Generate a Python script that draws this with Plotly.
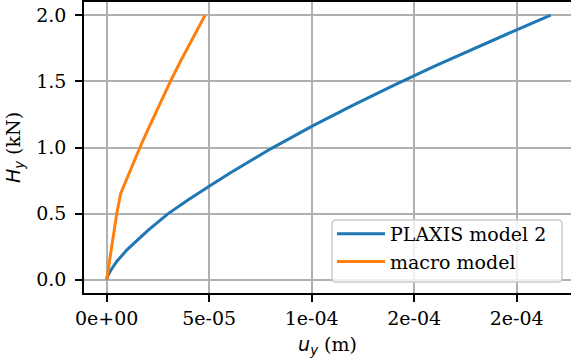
import plotly.graph_objects as go

# Load-displacement curves: horizontal load H_y (kN) vs displacement u_y (m)
plaxis_u = [0.0, 0.005e-4, 0.02e-4, 0.05e-4, 0.1e-4, 0.2e-4, 0.3e-4, 0.4e-4, 0.5e-4,
            0.6e-4, 0.8e-4, 1.0e-4, 1.2e-4, 1.4e-4, 1.6e-4, 1.8e-4, 2.0e-4, 2.166e-4]
plaxis_h = [0.0, 0.028, 0.072, 0.14, 0.228, 0.372, 0.5, 0.607, 0.707,
            0.805, 0.99, 1.16, 1.318, 1.47, 1.615, 1.755, 1.89, 2.0]

macro_u = [0.0, 0.049e-4, 0.068e-4, 0.1e-4, 0.13e-4, 0.162e-4, 0.2e-4, 0.25e-4,
           0.309e-4, 0.36e-4, 0.41e-4, 0.455e-4, 0.48e-4]
macro_h = [0.0, 0.5, 0.651, 0.773, 0.884, 1.0, 1.132, 1.302,
           1.494, 1.652, 1.802, 1.933, 2.0]

x_tickvals = [0.0, 5e-5, 1e-4, 1.5e-4, 2e-4]
x_ticktext = ["0e+00", "5e-05", "1e-04", "2e-04", "2e-04"]
y_tickvals = [0.0, 0.5, 1.0, 1.5, 2.0]
y_ticktext = ["0.0", "0.5", "1.0", "1.5", "2.0"]

BLUE = "#1f77b4"
ORANGE = "#ff7f0e"
SERIF = "DejaVu Serif"
FS = 19

W, H = 571, 360
ML, MR, MT, MB = 84, 0, 2, 67
PW, PH = W - ML - MR, H - MT - MB


def px_x(p):
    """pixel column -> paper x"""
    return (p - ML) / PW


def px_y(p):
    """pixel row -> paper y"""
    return (H - MB - p) / PH


def rounded_box(x0, y0, x1, y1, r):
    """rounded rectangle path (pixel corners) in paper coordinates"""
    pts = [
        f"M{px_x(x0 + r)},{px_y(y0)}",
        f"L{px_x(x1 - r)},{px_y(y0)}",
        f"Q{px_x(x1)},{px_y(y0)} {px_x(x1)},{px_y(y0 + r)}",
        f"L{px_x(x1)},{px_y(y1 - r)}",
        f"Q{px_x(x1)},{px_y(y1)} {px_x(x1 - r)},{px_y(y1)}",
        f"L{px_x(x0 + r)},{px_y(y1)}",
        f"Q{px_x(x0)},{px_y(y1)} {px_x(x0)},{px_y(y1 - r)}",
        f"L{px_x(x0)},{px_y(y0 + r)}",
        f"Q{px_x(x0)},{px_y(y0)} {px_x(x0 + r)},{px_y(y0)}",
        "Z",
    ]
    return " ".join(pts)


fig = go.Figure()
fig.add_trace(go.Scatter(x=plaxis_u, y=plaxis_h, mode="lines", name="PLAXIS model 2",
                         line=dict(color=BLUE, width=3)))
fig.add_trace(go.Scatter(x=macro_u, y=macro_h, mode="lines", name="macro model",
                         line=dict(color=ORANGE, width=3)))

# legend frame
fig.add_shape(type="path", xref="paper", yref="paper", layer="above",
              path=rounded_box(332, 220, 562, 282, 4),
              fillcolor="rgba(255,255,255,0.8)", line=dict(color="#cccccc", width=1.5))

math = "font-family:'DejaVu Sans'"
axis_common = dict(
    showgrid=True, gridcolor="#b0b0b0", gridwidth=1.5, zeroline=False,
    showline=True, linecolor="black", linewidth=1.5,
    ticks="outside", ticklen=7, tickwidth=1.5, tickcolor="black",
    tickfont=dict(family=SERIF, size=FS, color="black"),
)
fig.update_layout(
    width=W, height=H,
    margin=dict(l=ML, r=MR, t=MT, b=MB),
    paper_bgcolor="white", plot_bgcolor="white",
    font=dict(family=SERIF, size=FS, color="black"),
    showlegend=True,
    legend=dict(x=px_x(332), y=px_y(215), xanchor="left", yanchor="top",
                bgcolor="rgba(0,0,0,0)", borderwidth=0,
                font=dict(family=SERIF, size=FS, color="black"),
                tracegroupgap=0, itemwidth=48),
    xaxis=dict(range=[-1.107e-5, 2.265e-4], tickvals=x_tickvals, ticktext=x_ticktext,
               mirror=True,
               title=dict(text=f"<span style=\"{math}\"><i>u</i><sub><i>y</i></sub></span> (m)",
                          standoff=10, font=dict(family=SERIF, size=FS)),
               **axis_common),
    yaxis=dict(range=[-0.1, 2.1], tickvals=y_tickvals, ticktext=y_ticktext,
               mirror=False, ticklabelstandoff=5,
               title=dict(text=f"<span style=\"{math}\"><i>H</i><sub><i>y</i></sub></span> (kN)",
                          standoff=11, font=dict(family=SERIF, size=FS)),
               **axis_common),
)

fig.write_html("out.html")
